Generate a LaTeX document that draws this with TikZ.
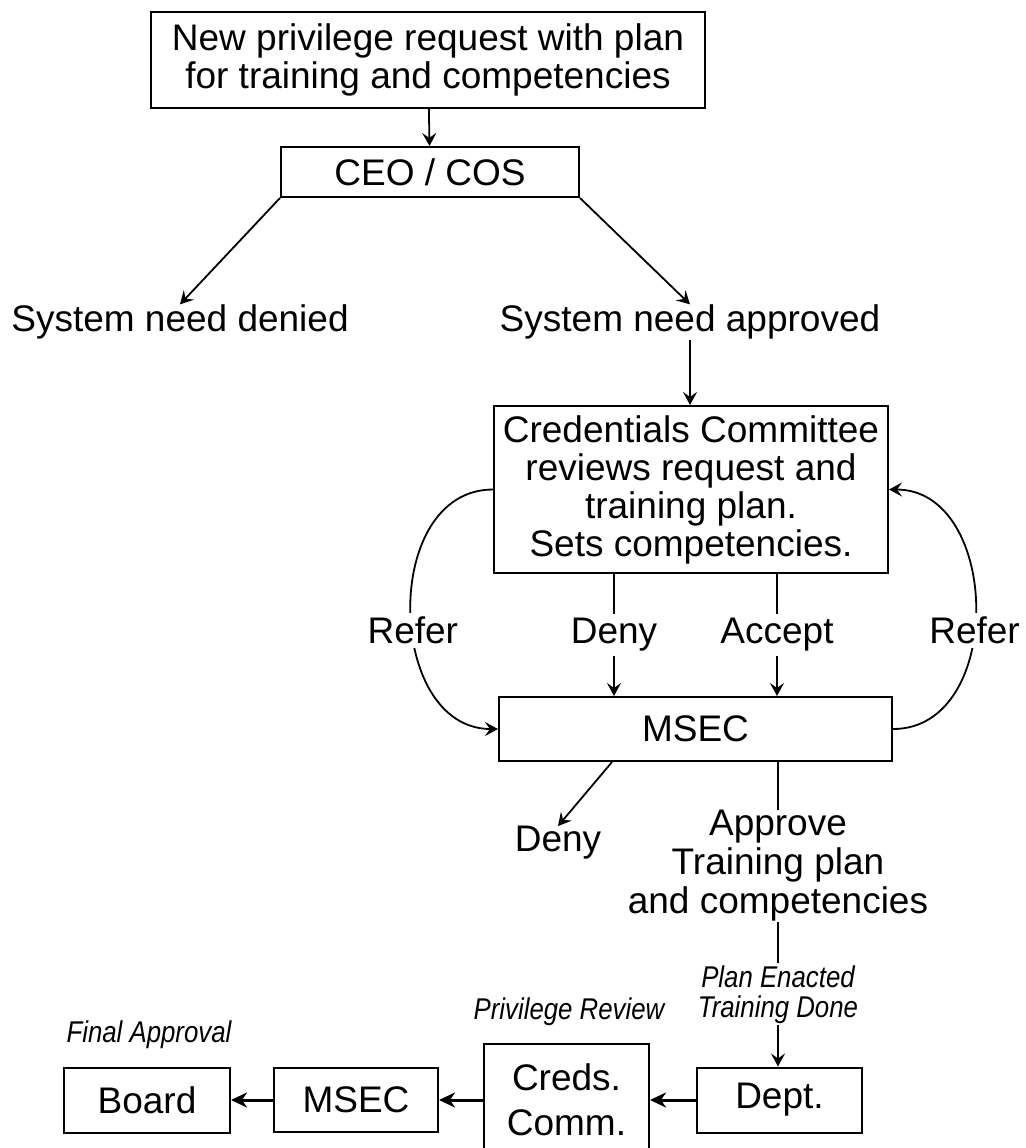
\documentclass[tikz,border=0pt]{standalone}
\usepackage{fontspec}
\setmainfont{Liberation Sans}
\newfontfamily\narrowfont[FakeStretch=0.86]{Liberation Sans}
\usetikzlibrary{arrows.meta}

\begin{document}
\begin{tikzpicture}[x=0.5pt,y=-0.5pt,>={Stealth[length=6.5pt,width=7pt,inset=2.5pt]}]
\tikzset{box/.style={draw,line width=1pt,inner sep=0pt,align=center,font=\fontsize{18.5}{19}\selectfont}, txt/.style={inner sep=0pt,align=center,font=\fontsize{18.5}{19.5}\selectfont}, lbl/.style={fill=white,inner sep=2pt,font=\fontsize{18.5}{19}\selectfont}, note/.style={inner sep=1pt,align=center,font=\narrowfont\itshape\fontsize{15}{15}\selectfont}, flow/.style={line width=0.9pt}, heavy/.style={line width=1.5pt,-{Stealth[length=8pt,width=7.5pt,inset=2.5pt]}}}
\useasboundingbox (0,0) rectangle (1025,1148);
\clip (0,0) rectangle (1025,1148);

\node[box,minimum width=277pt,minimum height=48pt] (req) at (428,60) {New privilege request with plan\\for training and competencies};
\node[box,minimum width=149pt,minimum height=25pt] (ceo) at (430,172) {CEO / COS};
\node[txt] (denied) at (180,322) {System need denied};
\node[txt] (approved) at (690,322) {System need approved};
\node[box,minimum width=197pt,minimum height=83.5pt] (cred) at (691,489.5) {Credentials Committee\\reviews request and\\training plan.\\Sets competencies.};
\node[box,minimum width=196.5pt,minimum height=32pt] (msec) at (695.5,729) {MSEC};
\node[txt] (deny) at (558,843) {Deny};
\node[txt] (approve) at (778,866) {Approve\\Training plan\\and competencies};
\node[box,minimum width=83pt,minimum height=32.5pt] (board) at (147,1100) {Board};
\node[box,minimum width=82pt,minimum height=32pt] (msecb) at (356,1100) {MSEC};
\node[box,minimum width=82.5pt,minimum height=56pt] (creds) at (566.5,1100) {Creds.\\[3.5pt]Comm.};
\node[box,minimum width=82.5pt,minimum height=32.5pt] (dept) at (779.5,1100) {Dept.};
\node[note] (final) at (149,1035) {Final Approval};
\node[note] (review) at (569,1012) {Privilege Review};

\draw[flow,->] (req) -- (ceo);
\draw[flow,->] (ceo.south west) -- (denied.north);
\draw[flow,->] (ceo.south east) -- (approved.north);
\draw[flow,->] (approved.south) -- (approved.south |- cred.north);
\draw[flow,->] ([xshift=-38.5pt]cred.south) -- ([xshift=-38.5pt]cred.south |- msec.north) node[lbl,midway] {Deny};
\draw[flow,->] ([xshift=43pt]cred.south) -- ([xshift=43pt]cred.south |- msec.north) node[lbl,midway] {Accept};
\draw[flow,->] (cred.west) to[out=180,in=180,looseness=1.2] node[lbl,pos=0.56] {Refer} (msec.west);
\draw[flow,->] (msec.east) to[out=0,in=0,looseness=1.2] node[lbl,pos=0.44] {Refer} (cred.east);
\draw[flow,->] ([xshift=-41.75pt]msec.south) -- (deny.north);
\draw[flow] (msec.south -| approve.north) -- (approve.north);
\draw[flow,->] (approve.south) -- (approve.south |- dept.north) node[note,fill=white,midway] {Plan Enacted\\Training Done};
\draw[heavy] (dept) -- (creds);
\draw[heavy] (creds) -- (msecb);
\draw[heavy] (msecb) -- (board);
\end{tikzpicture}
\end{document}
